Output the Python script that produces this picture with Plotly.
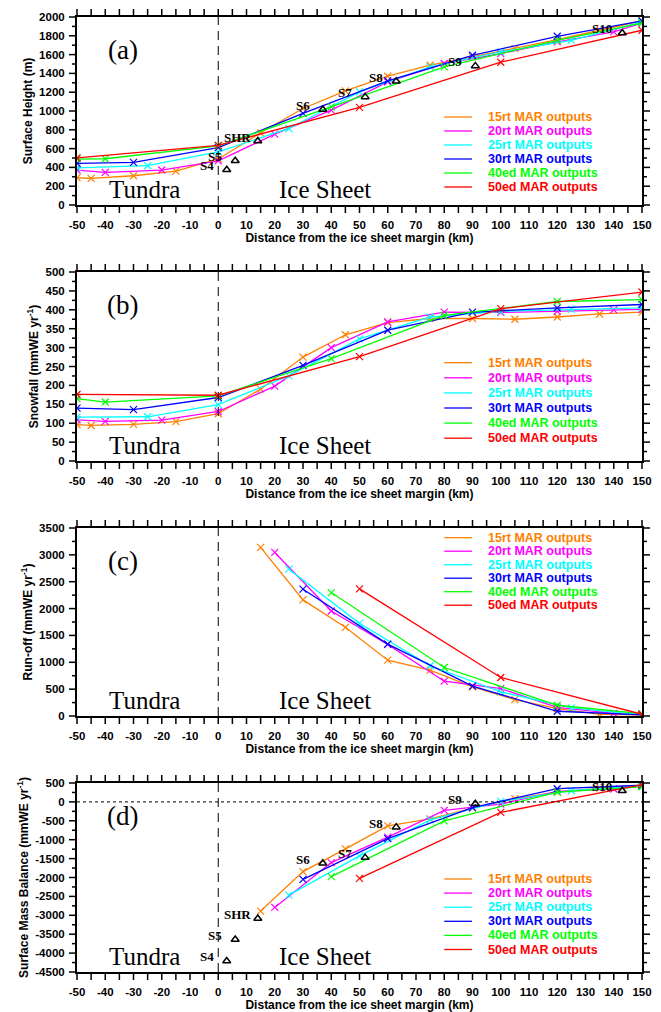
import plotly.graph_objects as go

# ---------------- data ----------------
series_names = ["15rt MAR outputs", "20rt MAR outputs", "25rt MAR outputs",
                "30rt MAR outputs", "40ed MAR outputs", "50ed MAR outputs"]
series_colors = ["#FF8000", "#FF00FF", "#00FFFF", "#0000FF", "#00FF00", "#FF0000"]

x15 = [-50, -45, -30, -15, 0, 15, 30, 45, 60, 75, 90, 105, 120, 135, 150]
x20 = [-50, -40, -20, 0, 20, 40, 60, 80, 100, 120, 140, 150]
x25 = [-50, -25, 0, 25, 50, 75, 100, 125, 150]
x30 = [-50, -30, 0, 30, 60, 90, 120, 150]
x40 = [-50, -40, 0, 40, 80, 120, 150]
x50 = [-50, 0, 50, 100, 150]

# (a) surface height (m)
h15 = [290, 283, 311, 361, 490, 768, 1027, 1214, 1370, 1487, 1575, 1664, 1760, 1859, 1958]
h20 = [372, 347, 372, 470, 754, 1010, 1310, 1505, 1611, 1735, 1841, 1936]
h25 = [396, 418, 566, 814, 1204, 1469, 1628, 1752, 1947]
h30 = [443, 453, 610, 974, 1320, 1593, 1795, 1958]
h40 = [489, 492, 630, 1044, 1469, 1752, 1936]
h50 = [502, 634, 1038, 1519, 1859]

# (b) snowfall (mmWE/yr)
s15 = [96, 94, 97, 104, 125, 190, 275, 334, 366, 377, 377, 375, 381, 389, 394]
s20 = [109, 105, 108, 131, 198, 300, 368, 394, 393, 396, 400, 401]
s25 = [116, 117, 149, 225, 323, 381, 396, 401, 405]
s30 = [140, 136, 168, 253, 346, 394, 405, 414]
s40 = [165, 156, 172, 271, 385, 422, 427]
s50 = [176, 174, 276, 403, 447]

# (c) run-off (mmWE/yr), ice-sheet points only
r15 = [3138, 2161, 1651, 1040, 854, 542, 306, 138, 32, 20]
r20 = [3045, 1955, 1333, 648, 511, 162, 50, 20]
r25 = [2734, 1725, 935, 449, 150, 20]
r30 = [2361, 1339, 555, 88, 20]
r40 = [2298, 903, 200, 45]
r50 = [2366, 717, 32]

# (d) surface mass balance (mmWE/yr), ice-sheet points only
m15 = [-2889, -1845, -1244, -633, -447, -164, 83, 261, 367, 428]
m20 = [-2791, -1606, -933, -226, -57, 277, 341, 428]
m25 = [-2465, -1429, -474, 12, 296, 428]
m30 = [-2048, -970, -150, 349, 440]
m40 = [-1978, -500, 261, 400]
m50 = [-2022, -279, 455]

# observation stations
st_names = ["S4", "S5", "SHR", "S6", "S7", "S8", "S9", "S10"]
st_x = [3, 6, 14, 37, 52, 63, 91, 143]
st_h = [375, 471, 680, 1016, 1150, 1317, 1480, 1830]
st_smb = [-4208, -3640, -3083, -1623, -1474, -668, -49, 296]

xs = [x15, x20, x25, x30, x40, x50]
panel_data = [
    ([h15, h20, h25, h30, h40, h50], False),
    ([s15, s20, s25, s30, s40, s50], False),
    ([r15, r20, r25, r30, r40, r50], True),
    ([m15, m20, m25, m30, m40, m50], True),
]

ytitles = ["Surface Height (m)", "Snowfall (mmWE yr<sup>-1</sup>)",
           "Run-off (mmWE yr<sup>-1</sup>)", "Surface Mass Balance (mmWE yr<sup>-1</sup>)"]
yranges = [(0, 2000, 200, 100), (0, 500, 50, 25), (0, 3500, 500, 250), (-4500, 500, 500, 250)]
plabels = ["(a)", "(b)", "(c)", "(d)"]
xticks = list(range(-50, 151, 5))
xticklabels = [str(v) if v % 10 == 0 else "" for v in xticks]
XLO, XHI = -50, 150

W, H = 661, 1012
X0PX, X1PX = 77, 642
xdom = [X0PX / W, X1PX / W]
ypix = [(17, 205), (272, 461), (528, 716), (783, 972)]
leg_rows = [(117, 14), (362.7, 15.1), (537.7, 13.5), (879, 14.1)]

fig = go.Figure()
layout = dict(template="none", width=W, height=H, margin=dict(l=0, r=0, t=0, b=0),
              paper_bgcolor="white", plot_bgcolor="rgba(0,0,0,0)", showlegend=False,
              hovermode=False, font=dict(family="Liberation Sans", color="black"))
shapes = []
annotations = []

bold = dict(family="Liberation Sans", size=11.5, color="black", weight="bold")
tfont = dict(family="Liberation Sans", size=12, color="black", weight="bold")
CLEAR = "rgba(0,0,0,0)"

# tick-mark segments, in page pixels, collected for one overlay trace
tick_x, tick_y = [], []


def seg(xa_, ya_, xb_, yb_):
    tick_x.extend([xa_, xb_, None])
    tick_y.extend([ya_, yb_, None])


for p in range(4):
    k = "" if p == 0 else str(p + 1)
    xa, ya = "x" + k, "y" + k
    xd, yd = xa + " domain", ya + " domain"
    ys_list, ice_only = panel_data[p]
    for i in range(6):
        xv = [v for v in xs[i] if v > 0] if ice_only else xs[i]
        fig.add_trace(go.Scatter(
            x=xv, y=ys_list[i], mode="lines+markers", xaxis=xa, yaxis=ya,
            line=dict(color=series_colors[i], width=1.3),
            marker=dict(symbol="x-thin", size=7, line=dict(color=series_colors[i], width=1.2)),
            name=series_names[i]))
    top, bot = ypix[p]
    PH = bot - top
    ydom = [1 - bot / H, 1 - top / H]
    lo, hi, dt, mdt = yranges[p]
    yt = list(range(lo, hi + 1, dt))
    ym = list(range(lo + mdt, hi, dt))
    layout["xaxis" + k] = dict(
        domain=xdom, anchor=ya, range=[XLO, XHI], tickmode="array", tickvals=xticks,
        ticktext=xticklabels, ticks="outside", ticklen=8, tickwidth=1, tickcolor=CLEAR,
        showline=True, linewidth=2, linecolor="black", mirror=True,
        showgrid=False, zeroline=False, tickfont=bold, automargin=False,
        title=dict(text="Distance from the ice sheet margin (km)", standoff=3, font=tfont))
    layout["yaxis" + k] = dict(
        domain=ydom, anchor=xa, range=[lo, hi], tickmode="array", tickvals=yt,
        ticktext=[str(v) for v in yt], ticks="outside", ticklen=8, tickwidth=1,
        tickcolor=CLEAR,
        showline=True, linewidth=2, linecolor="black", mirror=True,
        showgrid=False, zeroline=False, tickfont=bold, automargin=False,
        title=dict(text=ytitles[p], standoff=4, font=tfont))
    # tick marks on all four sides
    for v in xticks:
        px = X0PX + (v - XLO) / (XHI - XLO) * (X1PX - X0PX)
        seg(px, bot, px, bot + 8)
        seg(px, top, px, top - 8)
    for v, ln in [(v, 8) for v in yt] + [(v, 5) for v in ym]:
        py = bot - (v - lo) / (hi - lo) * PH
        seg(X0PX, py, X0PX - ln, py)
        seg(X1PX, py, X1PX + ln, py)
    # margin line
    shapes.append(dict(type="line", xref=xa, yref=yd, x0=0, x1=0, y0=0, y1=1,
                       line=dict(color="black", width=1, dash="9px,6px")))
    if p == 3:
        shapes.append(dict(type="line", xref=xd, yref=ya, x0=0, x1=1, y0=0, y1=0,
                           line=dict(color="black", width=1, dash="3px,3px")))
    # region labels
    serif = dict(family="Liberation Serif", size=25, color="black")
    annotations.append(dict(xref=xd, yref=yd, x=0.119, y=0.08,
                            xanchor="center", yanchor="middle",
                            text="Tundra", showarrow=False, font=serif))
    annotations.append(dict(xref=xd, yref=yd, x=0.439, y=0.08,
                            xanchor="center", yanchor="middle",
                            text="Ice Sheet", showarrow=False, font=serif))
    annotations.append(dict(xref=xd, yref=yd, x=0.081, y=0.825,
                            xanchor="center", yanchor="middle",
                            text=plabels[p], showarrow=False,
                            font=dict(family="Liberation Serif", size=27, color="black")))
    # legend
    r0, step = leg_rows[p]
    for i in range(6):
        yy = 1 - (r0 + i * step - top) / PH
        shapes.append(dict(type="line", xref=xd, yref=yd,
                           x0=0.65, x1=0.699, y0=yy, y1=yy,
                           line=dict(color=series_colors[i], width=1.3)))
        annotations.append(dict(xref=xd, yref=yd, x=0.724, y=yy,
                                xanchor="left", yanchor="middle", text=series_names[i],
                                showarrow=False,
                                font=dict(family="Liberation Sans", size=12.5,
                                          color=series_colors[i], weight="bold")))
    # stations
    if p in (0, 3):
        sy = st_h if p == 0 else st_smb
        fig.add_trace(go.Scatter(
            x=st_x, y=sy, mode="markers", xaxis=xa, yaxis=ya,
            marker=dict(symbol="triangle-up-open", size=7, color="black",
                        line=dict(color="black", width=1.5)), name="obs"))
        for n, xv, yv in zip(st_names, st_x, sy):
            annotations.append(dict(xref=xa, yref=ya, x=xv, y=yv, text=n, showarrow=False,
                                    xanchor="center", yanchor="middle",
                                    xshift=-20, yshift=4,
                                    font=dict(family="Liberation Serif", size=13,
                                              color="black", weight="bold")))

# full-page overlay subplot (pixel units) carrying the tick marks
fig.add_trace(go.Scatter(x=tick_x, y=tick_y, mode="lines", xaxis="x5", yaxis="y5",
                         line=dict(color="black", width=1.5), cliponaxis=False,
                         connectgaps=False, name="ticks"))
layout["xaxis5"] = dict(domain=[0, 1], anchor="y5", range=[0, W], visible=False,
                        fixedrange=True)
layout["yaxis5"] = dict(domain=[0, 1], anchor="x5", range=[H, 0], visible=False,
                        fixedrange=True)

layout["shapes"] = shapes
layout["annotations"] = annotations
fig.update_layout(**layout)
fig.write_html("out.html", config={"displayModeBar": False, "staticPlot": True},
               post_script="document.body.style.margin='0';")
